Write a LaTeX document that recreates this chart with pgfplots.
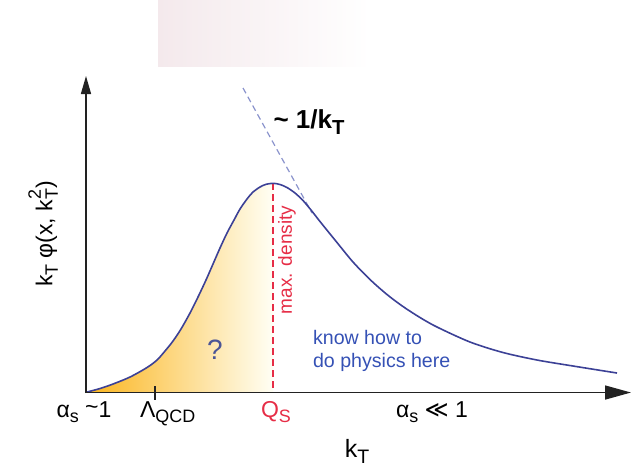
\documentclass[border=0pt]{standalone}
\usepackage{pgfplots}
\pgfplotsset{compat=1.18}
\usetikzlibrary{arrows.meta}
\usepackage{fontspec}
\setmainfont{Liberation Sans}
\newfontfamily\dejavu{DejaVu Sans}
\definecolor{curveblue}{RGB}{60,65,150}
\definecolor{fillorange}{RGB}{251,181,30}
\definecolor{qsred}{RGB}{230,45,70}
\definecolor{knowblue}{RGB}{53,81,181}
\definecolor{qmark}{RGB}{75,85,150}
\definecolor{dashblue}{RGB}{138,147,204}
\definecolor{axisgray}{RGB}{34,34,34}
\definecolor{pinkbg}{RGB}{244,233,236}
\newcommand{\sub}[1]{\raisebox{-0.45ex}{\scalebox{0.78}{#1}}}
\newcommand{\super}[1]{\raisebox{0.95ex}{\scalebox{0.78}{#1}}}
\begin{document}
\begin{tikzpicture}
\begin{axis}[
  scale only axis, width=317.5pt, height=234.5pt,
  xmin=0, xmax=635, ymin=0, ymax=469, y dir=reverse,
  hide axis, clip=false]
% invisible frame fixing the picture size
\draw[draw=none] (axis cs:0,0) rectangle (axis cs:635,469);
% faint pink block at top
\fill[left color=pinkbg, middle color=pinkbg!85!white, right color=white] (axis cs:158,0) rectangle (axis cs:370,66);
% gradient fill under curve, left of Q_s
\addplot[draw=none, left color=fillorange, middle color=fillorange!72!white, right color=white!96!yellow] coordinates {
(87,392) (100,388.5) (113,384) (130,377) (147,367.5) (157,360) (165,351)
(173,341) (181,329) (190,313) (198,297) (206,280) (213,264) (220,248)
(227,233) (234,220) (240,209) (247,199) (253,192) (260,187) (266,184.3)
(273.3,183.3) (273.3,392) (87,392)};
% 1/kT asymptote
\addplot[color=dashblue, densely dashed, line width=0.6pt] coordinates {(243,88) (312,213)};
% max density line
\addplot[color=qsred, dash pattern=on 3.5pt off 2pt, line width=0.9pt] coordinates {(273.3,183.3) (273.3,392)};
% main curve
\addplot[color=curveblue, line width=0.8pt, smooth] coordinates {
(87,392) (100,388.5) (113,384) (130,377) (147,367.5) (157,360) (165,351)
(173,341) (181,329) (190,313) (198,297) (206,280) (213,264) (220,248)
(227,233) (234,220) (240,209) (247,199) (253,192) (260,187) (266,184.3)
(273.3,183.3) (280,184.5) (287,187.5) (295,193) (303,200.5) (311,210) (320,221.5)
(337,242.5) (353,262) (370,279.5) (387,294.5) (403,306.5) (420,317.5) (437,327)
(470,342) (503,352.5) (537,360) (570,365.5) (617,373)};
% axes
\draw[axisgray, line width=0.75pt, -{Triangle[length=13pt,width=7pt]}] (axis cs:86,392.5) -- (axis cs:631,392.5);
\draw[axisgray, line width=0.75pt, -{Triangle[length=9pt,width=5pt]}] (axis cs:86,393) -- (axis cs:86,76);
\draw[axisgray, line width=0.75pt] (axis cs:155,386) -- (axis cs:155,400);
% texts
\node[font=\fontsize{11.5}{13}\selectfont] at (axis cs:84,412) {α\sub{s} \raisebox{0.2ex}{\textasciitilde}1};
\node[font=\fontsize{11.5}{13}\selectfont, anchor=west] at (axis cs:133,414) {Λ\sub{QCD}};
\node[font=\fontsize{11.5}{13}\selectfont, text=qsred] at (axis cs:276,412) {Q\sub{S}};
\node[font=\fontsize{11.5}{13}\selectfont] at (axis cs:432,412) {α\sub{s} {\dejavu ≪} 1};
\node[font=\fontsize{12.5}{14}\selectfont] at (axis cs:357,451) {k\sub{T}};
\node[font=\fontsize{11.5}{13}\selectfont, rotate=90] at (axis cs:43,234) {k\sub{T} φ(x, k\rlap{\super{2}}\sub{T})};
\node[font=\fontsize{13}{15}\selectfont\bfseries] at (axis cs:309,122) {\textasciitilde{} 1/k\sub{T}};
\node[font=\fontsize{9.5}{11}\selectfont, text=qsred, rotate=90] at (axis cs:287,260) {max. density};
\node[font=\fontsize{14}{16}\selectfont, text=qmark] at (axis cs:215,350) {?};
\node[font=\fontsize{9.8}{11}\selectfont, text=knowblue, align=left, anchor=west] at (axis cs:306,351) {know how to\\[0.5pt]do physics here};
\end{axis}
\end{tikzpicture}
\end{document}
